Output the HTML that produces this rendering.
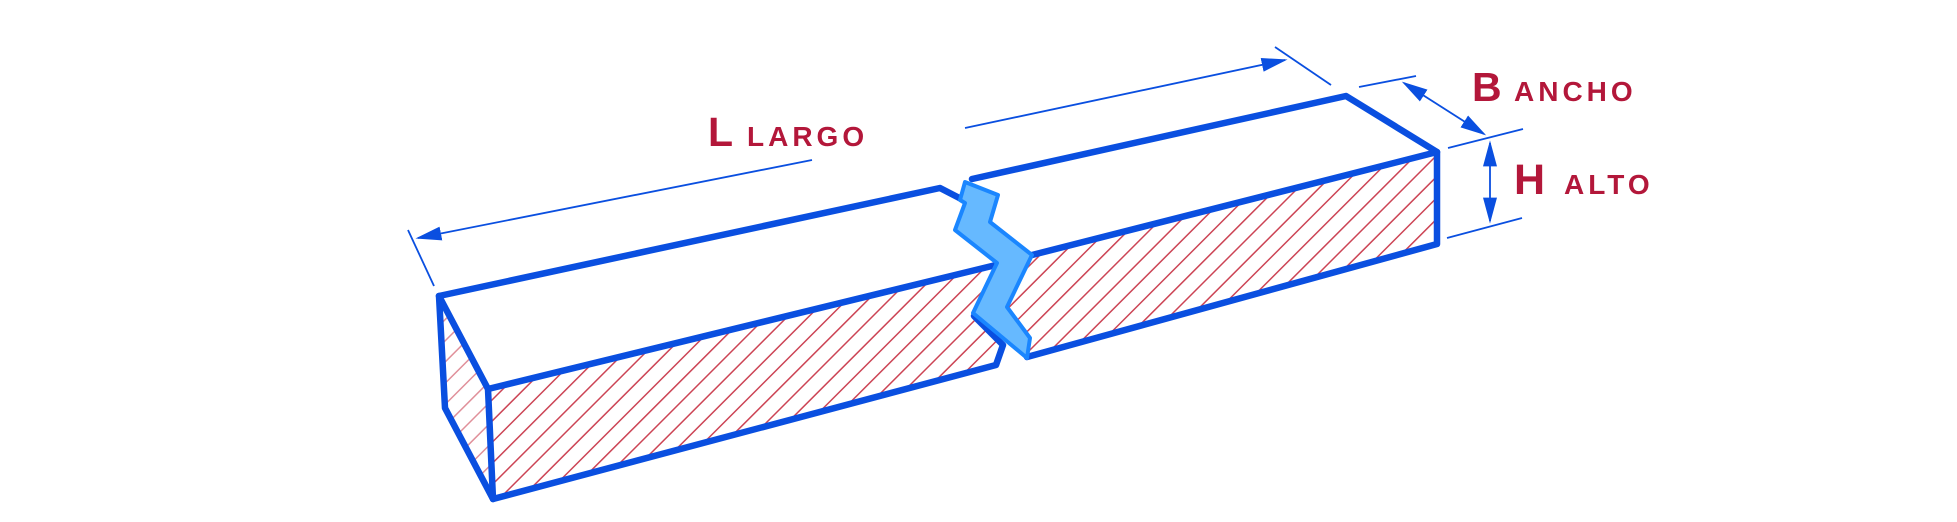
<!DOCTYPE html>
<html><head><meta charset="utf-8"><style>
html,body{margin:0;padding:0;background:#fff;width:1957px;height:522px;overflow:hidden}
svg{display:block}
text{font-family:"Liberation Sans",sans-serif;font-weight:bold;fill:#b3173a}
</style></head><body>
<svg width="1957" height="522" viewBox="0 0 1957 522" xmlns="http://www.w3.org/2000/svg">
<defs>
<pattern id="h" patternUnits="userSpaceOnUse" width="15" height="15" patternTransform="rotate(45)">
<line x1="0" y1="0" x2="0" y2="15" stroke="#cc4455" stroke-width="3"/>
</pattern>
<pattern id="h2" patternUnits="userSpaceOnUse" width="15" height="15" patternTransform="rotate(45)">
<line x1="0" y1="0" x2="0" y2="15" stroke="#e0909a" stroke-width="3"/>
</pattern>
<marker id="ar2" viewBox="0 0 10 10" refX="9" refY="5" markerWidth="26" markerHeight="14" markerUnits="userSpaceOnUse" orient="auto-start-reverse" preserveAspectRatio="none">
<path d="M0,0 L10,5 L0,10 z" fill="#0a4fe0"/>
</marker>
</defs>
<polygon points="439,296 488,389 493,499 445,408" fill="url(#h2)"/>
<polygon points="488,389 996,265 974,316 1003,345 996,365 493,499" fill="url(#h)"/>
<polygon points="1032,255 1437,152 1437,244 1027,357 1005,310" fill="url(#h)"/>
<g fill="none" stroke="#0a4fe0" stroke-width="6.5" stroke-linejoin="round" stroke-linecap="round">
<polyline points="969,203 940,188 439,296 445,408 493,499 996,365 1003,345 974,316"/>
<polyline points="439,296 488,389 493,499"/>
<line x1="488" y1="389" x2="996" y2="265"/>
<polyline points="972,179 1346,96 1437,152 1437,244 1027,357"/>
<line x1="1032" y1="255" x2="1437" y2="152"/>
</g>
<polygon points="965,182 998,195 990,222 1032,255 1007,307 1030,338 1027,358 973,313 997,263 955,230 965,203 960,200" fill="#66b9ff" stroke="#1a86ff" stroke-width="4" stroke-linejoin="round"/>
<g stroke="#0a4fe0" stroke-width="1.8" fill="none">
<line x1="408" y1="230" x2="434" y2="286"/>
<line x1="812" y1="160" x2="418" y2="238" marker-end="url(#ar2)"/>
<line x1="965" y1="128" x2="1285" y2="60" marker-end="url(#ar2)"/>
<line x1="1275" y1="47" x2="1331" y2="85"/>
<line x1="1359" y1="87" x2="1416" y2="76"/>
<line x1="1448" y1="148" x2="1523" y2="129"/>
<line x1="1447" y1="238" x2="1522" y2="218"/>
<line x1="1404" y1="83" x2="1484" y2="134" marker-start="url(#ar2)" marker-end="url(#ar2)"/>
<line x1="1490" y1="143" x2="1490" y2="221" marker-start="url(#ar2)" marker-end="url(#ar2)"/>
</g>
<text x="708" y="146" font-size="41">L</text>
<text x="747" y="146" font-size="28" letter-spacing="4">LARGO</text>
<text x="1472" y="101" font-size="41">B</text>
<text x="1514" y="101" font-size="28" letter-spacing="4">ANCHO</text>
<text x="1514" y="194" font-size="43">H</text>
<text x="1564" y="194" font-size="28" letter-spacing="4">ALTO</text>
</svg>
</body></html>
